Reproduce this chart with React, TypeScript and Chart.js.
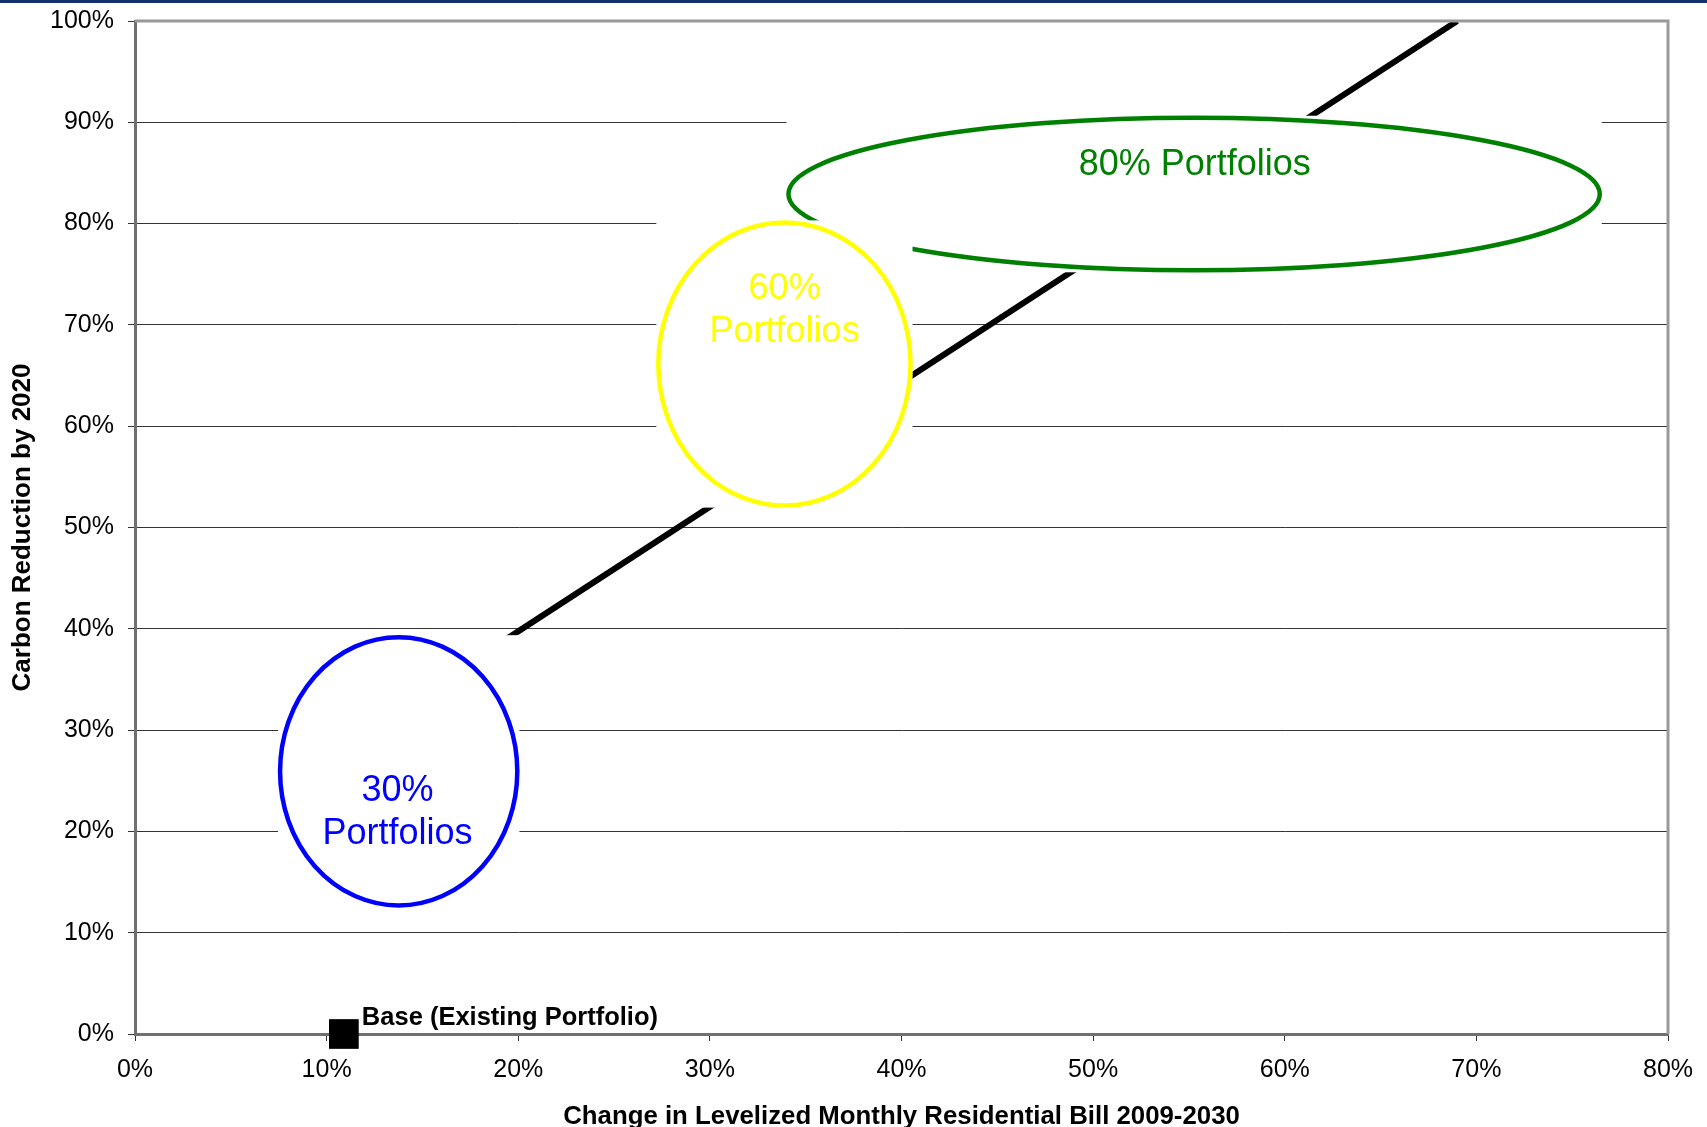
import React, { useEffect, useRef } from 'react';
import { Chart, registerables } from 'chart.js';

Chart.register(...registerables);

// Axis ranges (percent)
const xTickValues = [0, 10, 20, 30, 40, 50, 60, 70, 80];
const yTickValues = [0, 10, 20, 30, 40, 50, 60, 70, 80, 90, 100];

// Existing portfolio
const baseX = [10.9];
const baseY = [0];
const baseLabel = 'Base (Existing Portfolio)';

// Cost / reduction trend line
const trendX = [15, 69];
const trendY = [33.6, 100];

// Portfolio groups (ellipse centre and half-extents in axis units)
const groupText = [['80% Portfolios'], ['60%', 'Portfolios'], ['30%', 'Portfolios']];
const groupColors = ['#008000', '#FFFF00', '#0000FF'];
const groupX = [55.27, 33.89, 13.76];
const groupY = [82.92, 66.14, 25.93];
const groupRx = [21.17, 6.58, 6.19];
const groupRy = [7.53, 13.98, 13.24];
const groupTextX = [55.3, 33.9, 13.7];
const groupTextY = [85.8, 73.5, 24.0];

const FONT = '"Liberation Sans", Arial, Helvetica, sans-serif';

const portfolioPlugin = {
  id: 'portfolioGroups',
  afterDatasetsDraw(chart: any) {
    const { ctx, chartArea, scales } = chart;
    const x = scales.x;
    const y = scales.y;
    ctx.save();

    groupX.forEach((gx, i) => {
      const cx = x.getPixelForValue(gx);
      const cy = y.getPixelForValue(groupY[i]);
      const rx = Math.abs(x.getPixelForValue(gx + groupRx[i]) - cx);
      const ry = Math.abs(y.getPixelForValue(groupY[i] + groupRy[i]) - cy);

      // white shape background
      ctx.fillStyle = '#ffffff';
      ctx.fillRect(cx - rx - 2, cy - ry - 2, 2 * rx + 4, 2 * ry + 4);

      ctx.beginPath();
      ctx.ellipse(cx, cy, rx, ry, 0, 0, Math.PI * 2);
      ctx.lineWidth = 4.5;
      ctx.strokeStyle = groupColors[i];
      ctx.stroke();

      ctx.fillStyle = groupColors[i];
      ctx.font = `36px ${FONT}`;
      ctx.textAlign = 'center';
      ctx.textBaseline = 'middle';
      const tx = x.getPixelForValue(groupTextX[i]);
      const ty = y.getPixelForValue(groupTextY[i]);
      groupText[i].forEach((line, j) => ctx.fillText(line, tx, ty + j * 43));
    });

    // base point label
    const pt = chart.getDatasetMeta(1).data[0];
    if (pt) {
      ctx.fillStyle = '#000000';
      ctx.font = `bold 25.5px ${FONT}`;
      ctx.textAlign = 'left';
      ctx.textBaseline = 'middle';
      ctx.fillText(baseLabel, pt.x + 18, pt.y - 16);
    }

    // plot frame (top and right)
    ctx.strokeStyle = '#999999';
    ctx.lineWidth = 3;
    ctx.beginPath();
    ctx.moveTo(chartArea.left, chartArea.top);
    ctx.lineTo(chartArea.right, chartArea.top);
    ctx.lineTo(chartArea.right, chartArea.bottom);
    ctx.stroke();

    ctx.restore();
  },
};

export default function App() {
  const canvasRef = useRef<HTMLCanvasElement | null>(null);

  useEffect(() => {
    document.body.style.margin = '0';
    const canvas = canvasRef.current;
    if (!canvas) return;

    const chart = new Chart(canvas, {
      type: 'scatter',
      data: {
        datasets: [
          {
            label: 'Trend',
            data: trendX.map((v, i) => ({ x: v, y: trendY[i] })),
            showLine: true,
            borderColor: '#000000',
            borderWidth: 6,
            pointRadius: 0,
            clip: 0,
          },
          {
            label: baseLabel,
            data: baseX.map((v, i) => ({ x: v, y: baseY[i] })),
            pointStyle: 'rect',
            pointRadius: 21,
            backgroundColor: '#000000',
            borderWidth: 0,
            clip: false,
          },
        ],
      },
      options: {
        animation: false,
        responsive: false,
        devicePixelRatio: 1,
        layout: { padding: { top: 13, right: 39, left: 0, bottom: 0 } },
        plugins: {
          legend: { display: false },
          tooltip: { enabled: false },
        },
        scales: {
          x: {
            type: 'linear',
            min: xTickValues[0],
            max: xTickValues[xTickValues.length - 1],
            afterBuildTicks: (axis: any) => {
              axis.ticks = xTickValues.map((v) => ({ value: v }));
            },
            afterFit: (axis: any) => {
              axis.height = 93;
              axis.paddingLeft = 0;
              axis.paddingRight = 0;
            },
            grid: {
              drawOnChartArea: false,
              drawTicks: true,
              tickLength: 7,
              color: '#333333',
              lineWidth: 1,
            },
            border: { color: '#707070', width: 3 },
            ticks: {
              padding: 14,
              color: '#000000',
              font: { family: FONT, size: 25 },
              callback: (v: any) => `${v}%`,
            },
            title: {
              display: true,
              text: 'Change in Levelized Monthly Residential Bill 2009-2030',
              color: '#000000',
              font: { family: FONT, size: 25.8, weight: 'bold', lineHeight: 0.8 },
              padding: { top: 0, bottom: 0 },
            },
          },
          y: {
            type: 'linear',
            min: yTickValues[0],
            max: yTickValues[yTickValues.length - 1],
            afterBuildTicks: (axis: any) => {
              axis.ticks = yTickValues.map((v) => ({ value: v }));
            },
            afterFit: (axis: any) => {
              axis.width = 135;
              axis.paddingTop = 0;
              axis.paddingBottom = 0;
            },
            grid: {
              drawOnChartArea: true,
              drawTicks: true,
              tickLength: 7,
              color: '#333333',
              lineWidth: 1,
            },
            border: { color: '#707070', width: 3 },
            ticks: {
              padding: 14,
              color: '#000000',
              font: { family: FONT, size: 25 },
              callback: (v: any) => `${v}%`,
            },
            title: {
              display: true,
              text: 'Carbon Reduction by 2020',
              color: '#000000',
              font: { family: FONT, size: 26, weight: 'bold', lineHeight: 1.2 },
              padding: { top: 7, bottom: 0 },
            },
          },
        },
      },
      plugins: [portfolioPlugin],
    } as any);

    return () => chart.destroy();
  }, []);

  return (
    <div style={{ position: 'relative', width: 1707, height: 1127, background: '#ffffff' }}>
      <canvas ref={canvasRef} width={1707} height={1127} style={{ display: 'block' }} />
      <div
        style={{
          position: 'absolute',
          left: 0,
          top: 0,
          width: '100%',
          height: 3,
          background: '#14306c',
        }}
      />
    </div>
  );
}
